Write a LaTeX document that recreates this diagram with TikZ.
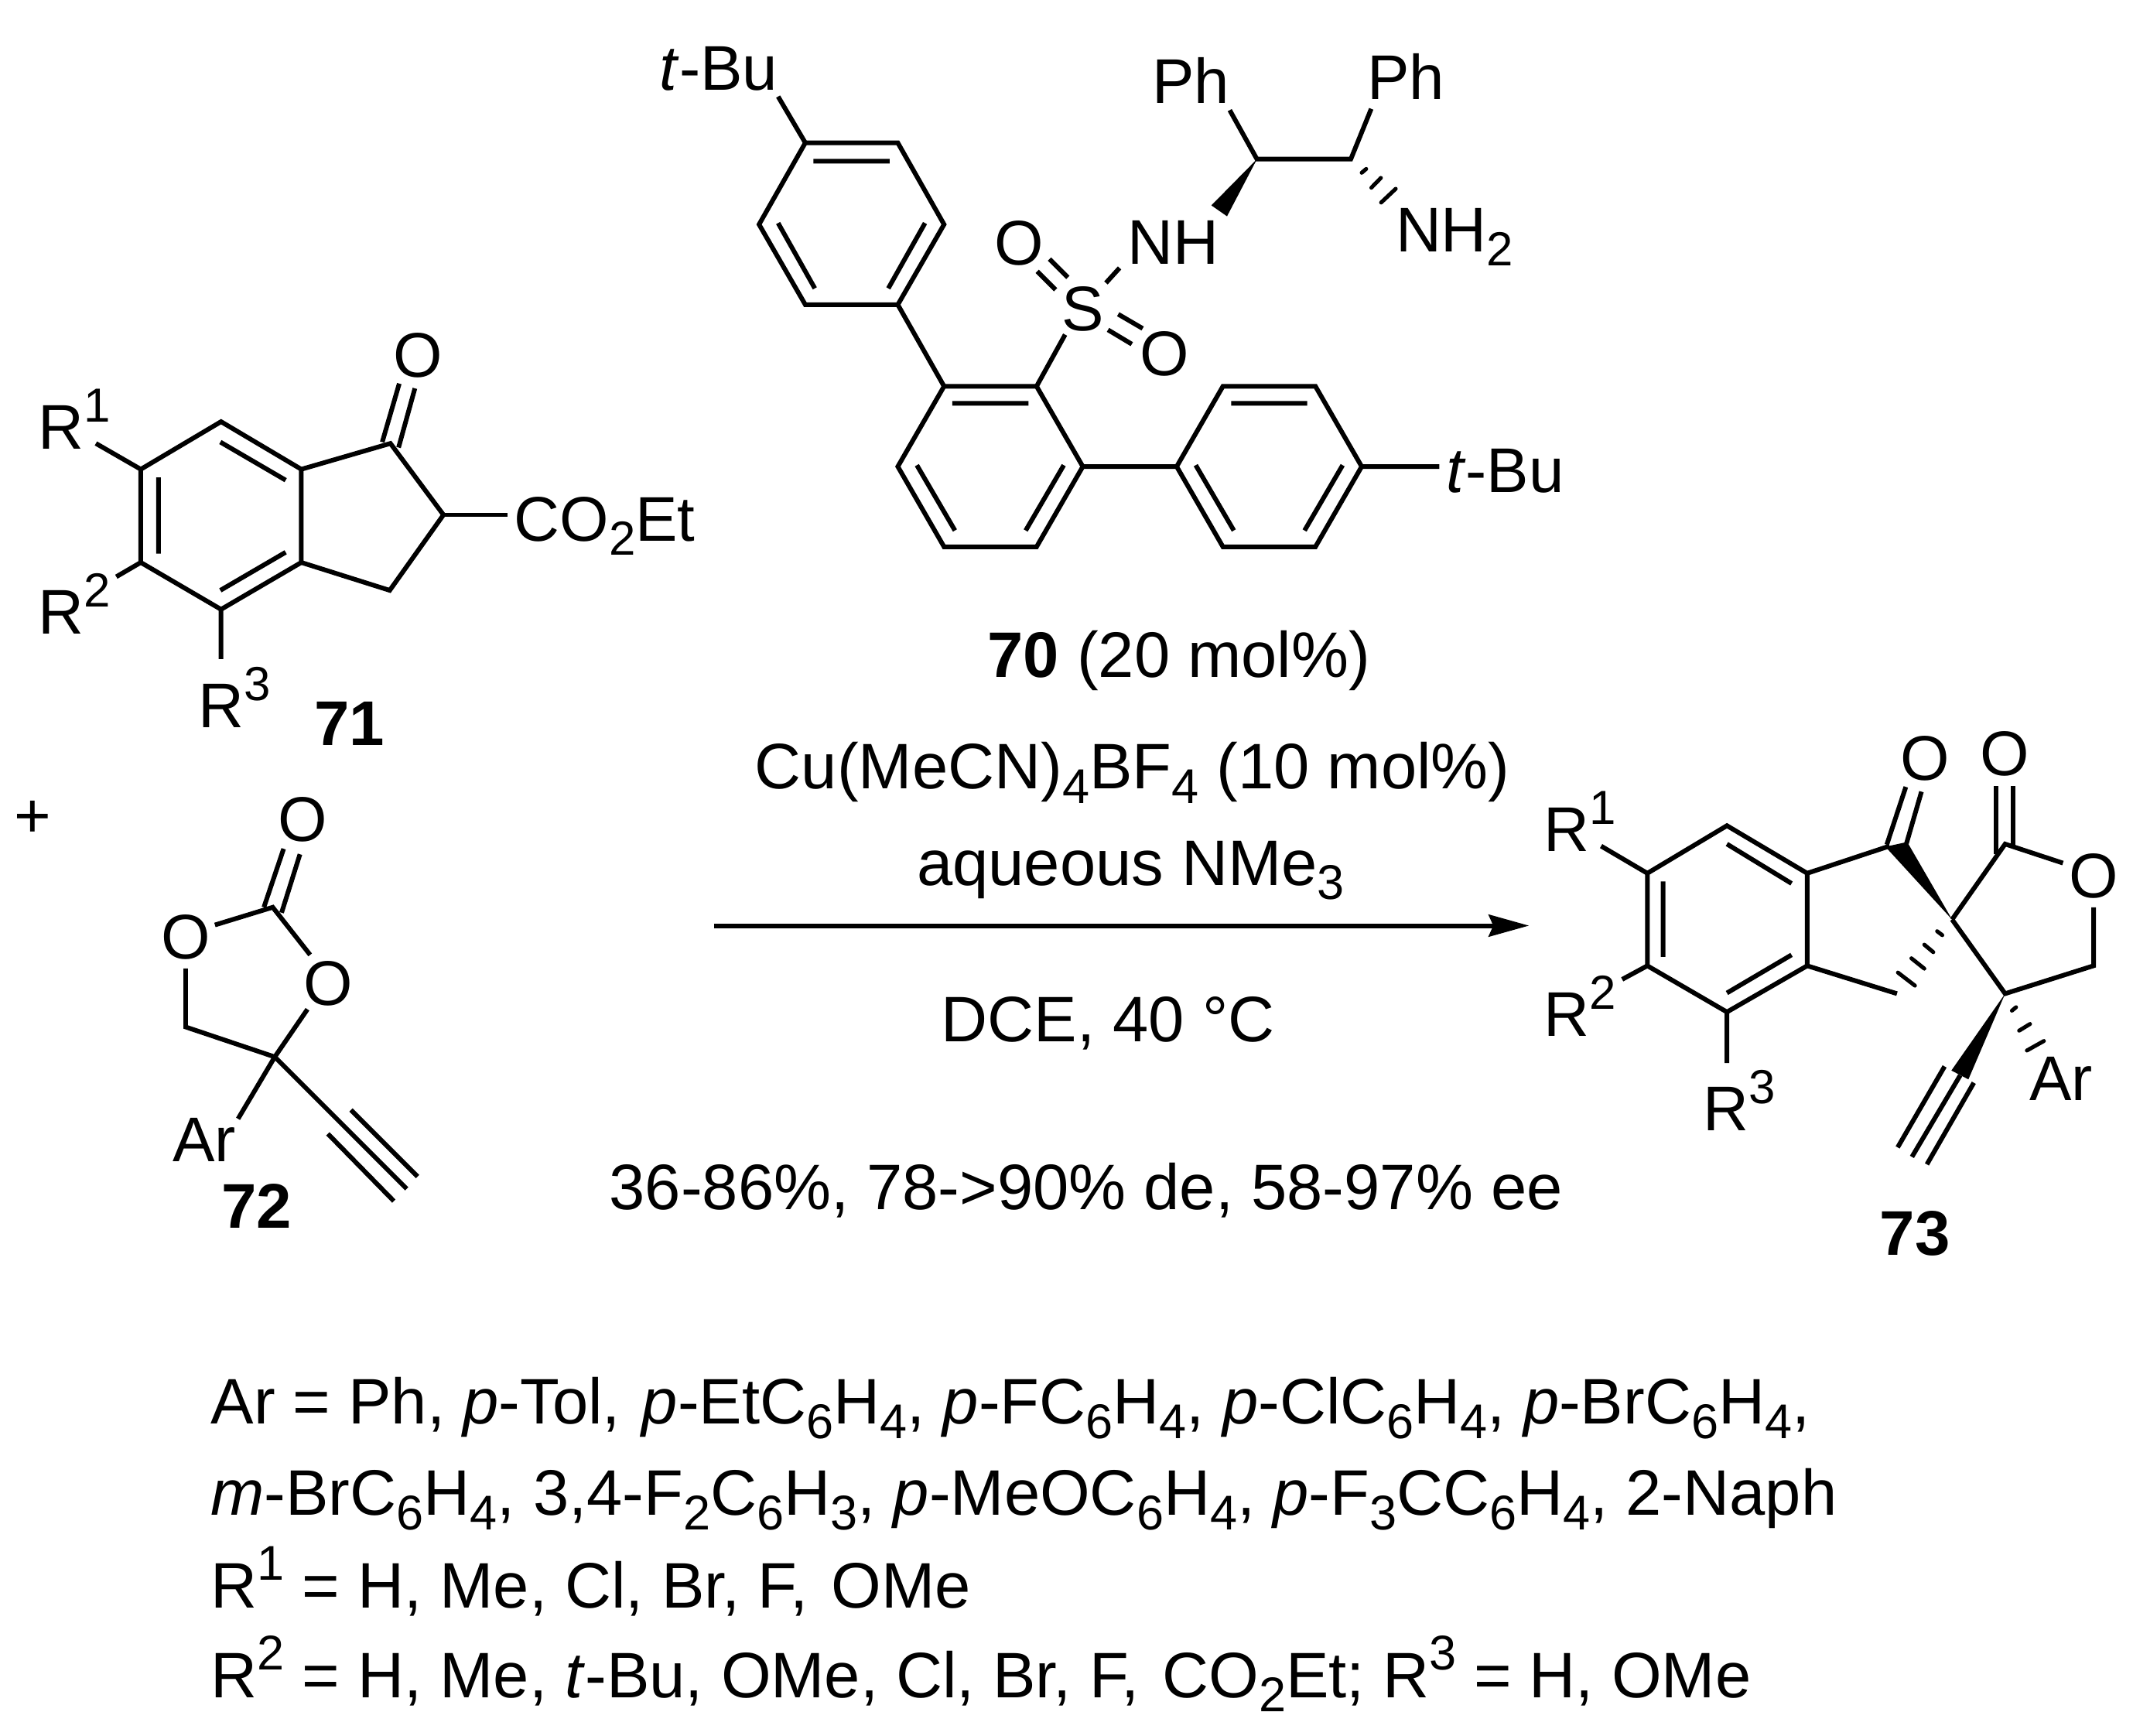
\documentclass[tikz,border=0pt]{standalone}
\usepackage{fontspec}
\setmainfont{Liberation Sans}
\usetikzlibrary{arrows.meta}
\newcommand\ssz{10}
\newcommand\sbs[1]{\raisebox{-.22em}{\fontsize{\ssz}{\ssz}\selectfont #1}}
\newcommand\sps[1]{\raisebox{.43em}{\fontsize{\ssz}{\ssz}\selectfont #1}}
\tikzset{
  bond/.style={line width=0.034cm,line cap=butt,line join=miter},
  txt/.style={inner sep=0pt,outer sep=0pt,anchor=base west,font=\fontsize{13.2}{14}\selectfont},
  long/.style={inner sep=0pt,outer sep=0pt,anchor=base west,font=\renewcommand\ssz{10.2}\fontsize{13.45}{14}\selectfont},
  atom/.style={inner sep=0pt,outer sep=0pt,anchor=center,font=\fontsize{13.2}{14}\selectfont},
  wedge/.style={fill=black,draw=none},
  hashb/.style={line width=0.029cm,line cap=round},
  rxn/.style={line width=0.034cm,-{Stealth[length=0.296cm,width=0.161cm,inset=0.034cm]}},
}
\begin{document}
\begin{tikzpicture}[x=0.01cm,y=-0.01cm]
\useasboundingbox (0,0) rectangle (1568,1276);
% ---------- catalyst 70
\coordinate (a1) at (592,105); \coordinate (a2) at (660,105); \coordinate (a3) at (694,165);
\coordinate (a4) at (660,224); \coordinate (a5) at (592,224); \coordinate (a6) at (558,165);
\coordinate (b1) at (694,284); \coordinate (b2) at (762,284); \coordinate (b3) at (796,343);
\coordinate (b4) at (762,402); \coordinate (b5) at (694,402); \coordinate (b6) at (660,343);
\coordinate (c1) at (865,343); \coordinate (c2) at (899,284); \coordinate (c3) at (967,284);
\coordinate (c4) at (1001,343); \coordinate (c5) at (967,402); \coordinate (c6) at (899,402);
\coordinate (d1) at (924,117); \coordinate (d2) at (993,117);
\draw[bond] (a1)--(a2)--(a3)--(a4)--(a5)--(a6)--cycle;
\draw[bond] (b1)--(b2)--(b3)--(b4)--(b5)--(b6)--cycle;
\draw[bond] (c1)--(c2)--(c3)--(c4)--(c5)--(c6)--cycle;
\draw[bond] (a4)--(b1) (b3)--(c1) (c4)--(1058,343);
\draw[bond] (572,71)--(a1);
\draw[bond] (598,118.5)--(654,118.5) (572,164)--(599,212) (680,164)--(653,212);
\draw[bond] (700,296.5)--(756,296.5) (674,342)--(702,390) (782,342)--(754,390);
\draw[bond] (905,296.5)--(961,296.5) (879,342)--(907,390) (987,342)--(959,390);
\draw[bond] (b2)--(783,246);
\draw[bond] (762.5,199.5)--(776,213) (771.5,190.5)--(785,204);
\draw[bond] (814.5,242.5)--(832,253) (822,231)--(840,241.5);
\draw[bond] (813,208)--(823,197);
\draw[bond] (904,81)--(d1)--(d2)--(1008,80);
\fill[wedge] (d1)--(890.5,151)--(902,159)--cycle;
\draw[hashb] (1001,127)--(1004.3,124.2) (1008.1,138)--(1015.1,130.8) (1015.3,148.9)--(1026,138.8);
\node[txt] (tb1) at (485,66) {\textit{t}-Bu};
\node[txt] (ph1) at (847,76) {Ph};
\node[txt] (ph2) at (1005,73) {Ph};
\node[txt] (nh)  at (829,194) {NH};
\node[txt] (nh2) at (1026,185) {NH\sbs{2}};
\node[atom] (s)  at (796,227) {S};
\node[atom] (o1) at (749,179) {O};
\node[atom] (o2) at (856,260) {O};
\node[txt] (tb2) at (1063,362) {\textit{t}-Bu};
% ---------- 71
\coordinate (e1) at (162.5,310); \coordinate (e2) at (221.5,345); \coordinate (e3) at (221.5,413.5);
\coordinate (e4) at (162.5,448); \coordinate (e5) at (103.5,413.5); \coordinate (e6) at (103.5,345);
\coordinate (e7) at (287,326); \coordinate (e8) at (326,378.5); \coordinate (e9) at (286.5,434);
\draw[bond] (e1)--(e2)--(e3)--(e4)--(e5)--(e6)--cycle;
\draw[bond] (e2)--(e7)--(e8)--(e9)--(e3);
\draw[bond] (162,325)--(210,353) (116.5,351)--(116.5,407) (162,434)--(210,406);
\draw[bond] (281,325)--(293.5,282) (293,329)--(305,285.5);
\draw[bond] (e8)--(373,378.5);
\draw[bond] (70.5,326)--(e6) (85.5,424)--(e5) (e4)--(162.5,484.5);
\node[atom] (o3) at (307.5,261.5) {O};
\node[txt] (co) at (378,398) {CO\sbs{2}Et};
\node[txt] (r1a) at (28,330) {R\sps{1}};
\node[txt] (r2a) at (28,466) {R\sps{2}};
\node[txt] (r3a) at (146,535) {R\sps{3}};
\node[txt] (n71) at (231,548) {\textbf{71}};
% ---------- plus and 72
\node[atom] (plus) at (24,602) {+};
\coordinate (f1) at (200.5,667); \coordinate (f2) at (202,777); \coordinate (f3) at (136.5,755);
\draw[bond] (158,680)--(f1)--(228,702);
\draw[bond] (136.5,712)--(f3)--(f2)--(226,742);
\draw[bond] (f2)--(175,822.5);
\draw[bond] (194,667)--(208.5,624) (207,671)--(220.5,628);
\draw[bond] (f2)--(299,874) (258,816)--(307,865) (241,833.5)--(289.5,883);
\node[atom] (o4) at (222.5,602.5) {O};
\node[atom] (o5) at (136.5,689) {O};
\node[atom] (o6) at (241.5,723) {O};
\node[txt] (ar1) at (127,854) {Ar};
\node[txt] (n72) at (163,903) {\textbf{72}};
% ---------- reaction conditions
\node[long] (l1) at (726,498) {\textbf{70} (20 mol\%)};
\node[long] (l2) at (555,580) {Cu(MeCN)\sbs{4}BF\sbs{4} (10 mol\%)};
\node[long] (l3) at (674,651) {aqueous NMe\sbs{3}};
\coordinate (arS) at (525,680.5); \coordinate (arE) at (1124,680.5);
\draw[rxn] (arS)--(arE);
\node[long] (l4) at (692,766) {DCE, 40 °C};
\node[long] (l5) at (448,889) {36-86\%, 78->90\% de, 58-97\% ee};
% ---------- 73
\coordinate (g1) at (1269.5,607); \coordinate (g2) at (1328.5,642); \coordinate (g3) at (1328.5,710);
\coordinate (g4) at (1269.5,744); \coordinate (g5) at (1211,710); \coordinate (g6) at (1211,642);
\coordinate (g7) at (1389,622); \coordinate (g8) at (1435,676); \coordinate (g9) at (1394.5,730.5);
\coordinate (g10) at (1474,620.5); \coordinate (g11) at (1474,730.5); \coordinate (g12) at (1539,710);
\draw[bond] (g1)--(g2)--(g3)--(g4)--(g5)--(g6)--cycle;
\draw[bond] (1269.5,620.5)--(1317,649.5) (1222.5,648)--(1222.5,703.5) (1269.5,730)--(1317,702);
\draw[bond] (g2)--(g7) (g3)--(g9);
\draw[bond] (1177,622)--(g6) (1192.5,720)--(g5) (g4)--(1269.5,781.5);
\draw[bond] (1387,621)--(1401,578.5) (1401.5,620)--(1412.5,582);
\fill[wedge] (g8)--(1386,622.5)--(1402,619)--cycle;
\draw[hashb] (1424,684.6)--(1427.8,687.5) (1414.6,694.5)--(1421.2,700) (1405.1,704.5)--(1414.6,712.1) (1395.2,715)--(1407.7,724.6);
\draw[bond] (g8)--(g10)--(1516.5,634.5) (g8)--(g11)--(g12)--(1539,667);
\draw[bond] (1467.5,578)--(1467.5,628) (1480,578)--(1480,621);
\fill[wedge] (g11)--(1434.5,787)--(1447,793.5)--cycle;
\draw[bond] (1441,790.5)--(1405.5,850.5) (1429.5,784)--(1395,843.5) (1451,796)--(1416.5,856);
\draw[hashb] (1479,743)--(1482,740.5) (1484.3,757.7)--(1492.3,752.8) (1490,772.3)--(1502.5,765.3);
\node[atom] (o7) at (1415,557.5) {O};
\node[atom] (o8) at (1474,554) {O};
\node[atom] (o9) at (1539,644) {O};
\node[txt] (ar2) at (1492,809) {Ar};
\node[txt] (r1b) at (1135,626) {R\sps{1}};
\node[txt] (r2b) at (1135,762) {R\sps{2}};
\node[txt] (r3b) at (1252,831) {R\sps{3}};
\node[txt] (n73) at (1382,923) {\textbf{73}};
% ---------- substituent list
\node[long] (s1) at (155,1047) {Ar = Ph, \textit{p}-Tol,\hspace{.06em} \textit{p}-EtC\sbs{6}H\sbs{4}, \textit{p}-FC\sbs{6}H\sbs{4}, \textit{p}-ClC\sbs{6}H\sbs{4}, \textit{p}-BrC\sbs{6}H\sbs{4},};
\node[long] (s2) at (155,1114) {\textit{m}-BrC\sbs{6}H\sbs{4}, 3,4-F\sbs{2}C\sbs{6}H\sbs{3}, \textit{p}-MeOC\sbs{6}H\sbs{4}, \textit{p}-F\sbs{3}CC\sbs{6}H\sbs{4}, 2-Naph};
\node[long] (s3) at (155,1182) {R\sps{1} = H, Me, Cl, Br, F,\hspace{.08em} OMe};
\node[long] (s4) at (155,1248) {R\sps{2} = H, Me, \textit{t}-Bu, OMe, Cl, Br, F,\hspace{.08em} CO\sbs{2}Et; R\sps{3} = H, OMe};
\end{tikzpicture}
\end{document}
